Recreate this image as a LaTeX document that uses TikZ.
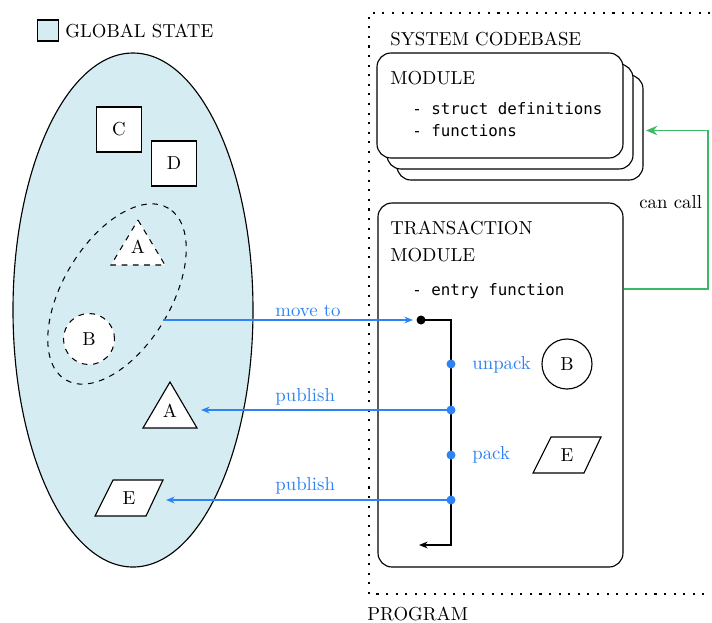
\documentclass[tikz,border=0pt]{standalone}
\usepackage{fontspec}
\newfontfamily\codefont{DejaVu Sans Mono}
\usetikzlibrary{shapes.geometric,arrows.meta}

\newlength\pxu
\setlength\pxu{0.532pt}

\definecolor{statefill}{RGB}{214,236,243}
\definecolor{flowblue}{RGB}{45,130,245}
\definecolor{callgreen}{RGB}{60,185,100}

\tikzset{
  outline/.style={draw=black, line width=0.6pt},
  itembox/.style={outline, fill=white, minimum size=45\pxu, inner sep=0pt},
  roundbox/.style={outline, fill=white, rounded corners=14\pxu},
  txt/.style={anchor=base west, inner sep=0pt},
  code/.style={anchor=base west, inner sep=0pt, font=\codefont\fontsize{8.4}{10}\selectfont},
  bluetxt/.style={txt, text=flowblue},
  bluearrow/.style={draw=flowblue, line width=0.7pt, -{Stealth[length=4.6pt,width=3.6pt]}},
  greenarrow/.style={draw=callgreen, line width=0.9pt, -{Stealth[length=6pt,width=5pt]}},
  flowline/.style={draw=black, line width=0.7pt, -{Stealth[length=4.6pt,width=3.6pt]}},
  knot/.style={circle, fill=#1, minimum size=9\pxu, inner sep=0pt},
  frame/.style={draw=black, line width=1.1pt, dash pattern=on 1.1pt off 4pt},
  dashline/.style={draw=black, dashed, line width=0.55pt},
}

\begin{document}
\begin{tikzpicture}[x=0.532pt, y=-0.532pt]
\useasboundingbox (0,0) rectangle (712,622);

% ---------- legend ----------
\node[outline, fill=statefill, minimum size=21\pxu, inner sep=0pt] (legend) at (48,30.5) {};
\node[txt] (legendtxt) at (65,37) {GLOBAL STATE};

% ---------- global state ----------
\node[outline, ellipse, fill=statefill, minimum width=240\pxu, minimum height=514\pxu, inner sep=0pt] (state) at (133,310) {};

\node[itembox] (c) at (119,129.5) {C};
\node[itembox] (d) at (174,163.5) {D};

% group of objects that is moved into the transaction
\node[dashline, ellipse, minimum width=200\pxu, minimum height=108\pxu, inner sep=0pt, rotate=59] (group) at (117,294) {};
\draw[dashline, fill=white] (138,220) -- (165,265) -- (111,265) -- cycle;
\node (ain) at (138,247) {A};
\node[dashline, circle, fill=white, minimum size=51\pxu, inner sep=0pt] (bin) at (89,339) {B};

% published objects
\draw[outline, fill=white] (170,382) -- (197,428) -- (143,428) -- cycle;
\node (aout) at (170,411) {A};
\draw[outline, fill=white] (95,516) -- (113,480) -- (163,480) -- (146,516) -- cycle;
\node (eout) at (129,498) {E};

% ---------- program frame ----------
\draw[frame] (720,13) -- (369,13) -- (369,594) -- (720,594);
\node[txt] (progtxt) at (367,620) {PROGRAM};
\node[txt] (systxt) at (390,45) {SYSTEM CODEBASE};

% stack of modules
\node[roundbox, minimum width=246\pxu, minimum height=105\pxu] (mod3) at (520,127.5) {};
\node[roundbox, minimum width=246\pxu, minimum height=105\pxu] (mod2) at (510,116.5) {};
\node[roundbox, minimum width=246\pxu, minimum height=105\pxu] (mod1) at (500,105.5) {};
\node[txt] (modtxt) at (390,84.5) {MODULE};
\node[code] (structs) at (412,114) {- struct definitions};
\node[code] (funcs) at (412,136.5) {- functions};

% transaction module
\node[roundbox, minimum width=245\pxu, minimum height=364\pxu] (tx) at (500.5,385) {};
\node[txt] (txtitle) at (390,234) {TRANSACTION};
\node[txt] (txtitleb) at (390,261) {MODULE};
\node[code] (entry) at (412,295) {- entry function};

% execution flow of the entry function
\node[knot=black] (start) at (421,320) {};
\coordinate (turn1) at (451,320);
\coordinate (turn2) at (451,545);
\coordinate (finish) at (419,545);
\draw[flowline] (start.center) -- (turn1) -- (turn2) -- (finish);

\node[knot=flowblue] (unpackpt) at (451,364) {};
\node[knot=flowblue] (pub1pt) at (451,410) {};
\node[knot=flowblue] (packpt) at (451,455) {};
\node[knot=flowblue] (pub2pt) at (451,500) {};

\node[bluetxt] (unpacktxt) at (472,369.5) {unpack};
\node[bluetxt] (packtxt) at (472,459.5) {pack};

\node[outline, circle, fill=white, minimum size=50\pxu, inner sep=0pt] (bout) at (567,364) {B};
\draw[outline, fill=white] (533,473) -- (551,437) -- (601,437) -- (584,473) -- cycle;
\node (ein) at (567,455) {E};

% ---------- connectors ----------
\coordinate (movefrom) at (163,320);
\coordinate (moveto) at (413,320);
\draw[bluearrow] (movefrom) -- (moveto);
\node[bluetxt] (movetxt) at (275,316.5) {move to};

\coordinate (pubA) at (201,410);
\draw[bluearrow] (pub1pt.center) -- (pubA);
\node[bluetxt] (pub1txt) at (275,401) {publish};

\coordinate (pubE) at (166,500);
\draw[bluearrow] (pub2pt.center) -- (pubE);
\node[bluetxt] (pub2txt) at (275,490.5) {publish};

\coordinate (callout) at (708,289);
\coordinate (callin) at (708,130.5);
\coordinate (calltip) at (646,130.5);
\draw[greenarrow] (tx.east |- callout) -- (callout) -- (callin) -- (calltip);
\node[txt] (calltxt) at (639,208.5) {can call};

\end{tikzpicture}
\end{document}
